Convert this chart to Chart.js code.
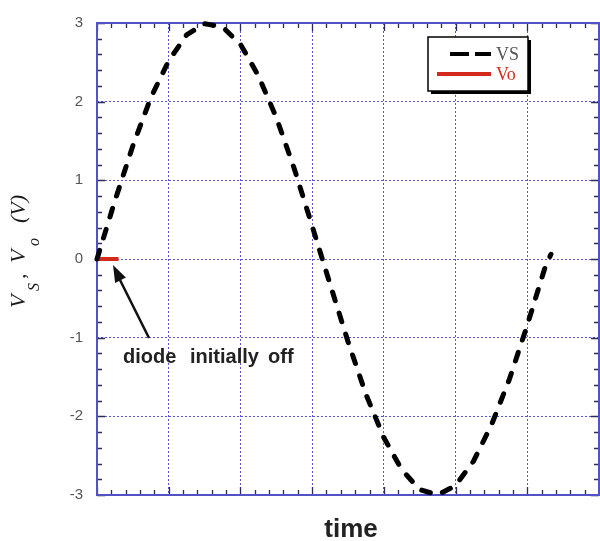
<!DOCTYPE html>
<html>
<head>
<meta charset="utf-8">
<script src="https://cdn.jsdelivr.net/npm/chart.js@4/dist/chart.umd.min.js"></script>
<style>
html,body{margin:0;padding:0;background:#fff}
canvas{display:block}
</style>
</head>
<body>
<canvas id="c" width="600" height="541"></canvas>
<script>
// source voltage vs time (one period of the input)
var timePts = [0, 0.25, 0.5, 0.75, 1, 1.25, 1.5, 1.75, 2, 2.25, 2.5, 2.75, 3, 3.25, 3.5, 3.75, 4, 4.25, 4.5, 4.75, 5, 5.25, 5.5, 5.75, 6, 6.25, 6.33];
var vsVals  = [0, 0.74, 1.44, 2.05, 2.52, 2.85, 2.99, 2.95, 2.73, 2.33, 1.80, 1.15, 0.42, -0.32, -1.05, -1.72, -2.27, -2.68, -2.93, -3.00, -2.88, -2.57, -2.11, -1.53, -0.84, -0.10, 0.06];
// output while the diode is still off
var voTime = [0, 0.3];
var voVals = [0, 0];
var yTicks = [-3, -2, -1, 0, 1, 2, 3];
var xRange = [0, 7];

var gridBlue = 'rgba(70,70,205,0.9)';
var frameBlue = '#5252c4';

var frame = {
	id: 'frame',
	beforeDatasetsDraw: function(chart) {
		var ctx = chart.ctx, a = chart.chartArea, x = chart.scales.x, y = chart.scales.y;
		ctx.save();
		ctx.strokeStyle = '#2c2c5a';
		ctx.lineWidth = 1.3;
		ctx.beginPath();
		for (var i = 0; i <= 35; i++) {
			var px = Math.round(x.getPixelForValue(i / 5)) + 0.5;
			var len = (i % 5 === 0) ? 8 : 5;
			ctx.moveTo(px, a.bottom); ctx.lineTo(px, a.bottom - len);
			ctx.moveTo(px, a.top); ctx.lineTo(px, a.top + len);
		}
		for (var j = 0; j <= 30; j++) {
			var py = Math.round(y.getPixelForValue(-3 + j / 5)) + 0.5;
			var l2 = (j % 5 === 0) ? 8 : 5;
			ctx.moveTo(a.left, py); ctx.lineTo(a.left + l2, py);
			ctx.moveTo(a.right, py); ctx.lineTo(a.right - l2, py);
		}
		ctx.stroke();
		ctx.strokeStyle = frameBlue;
		ctx.lineWidth = 2;
		ctx.strokeRect(a.left, a.top, a.right - a.left, a.bottom - a.top);
		ctx.restore();
	},
	afterDraw: function(chart) {
		var ctx = chart.ctx;
		ctx.save();

		// legend box with drop shadow
		ctx.fillStyle = '#000';
		ctx.fillRect(431, 40, 100, 54);
		ctx.fillStyle = '#fff';
		ctx.fillRect(428, 37, 100, 54);
		ctx.strokeStyle = '#000';
		ctx.lineWidth = 1.5;
		ctx.strokeRect(428, 37, 100, 54);

		var ds = chart.data.datasets;
		ctx.lineCap = 'butt';
		ctx.strokeStyle = ds[0].borderColor;
		ctx.lineWidth = 4;
		ctx.beginPath();
		ctx.moveTo(450, 54); ctx.lineTo(469, 54);
		ctx.moveTo(475, 54); ctx.lineTo(491, 54);
		ctx.stroke();
		ctx.strokeStyle = ds[1].borderColor;
		ctx.beginPath();
		ctx.moveTo(437, 74); ctx.lineTo(491, 74);
		ctx.stroke();

		ctx.font = '18px "Liberation Serif", serif';
		ctx.textBaseline = 'alphabetic';
		ctx.textAlign = 'left';
		ctx.fillStyle = '#555';
		ctx.fillText(ds[0].label, 496, 60);
		ctx.fillStyle = '#d0301f';
		ctx.fillText(ds[1].label, 496, 80);

		// annotation arrow
		ctx.strokeStyle = '#111';
		ctx.fillStyle = '#111';
		ctx.lineWidth = 2.5;
		ctx.beginPath();
		ctx.moveTo(149, 338);
		ctx.lineTo(118, 276);
		ctx.stroke();
		var ang = Math.atan2(265 - 338, 113 - 149);
		ctx.beginPath();
		ctx.moveTo(113, 265);
		ctx.lineTo(113 - 17 * Math.cos(ang) + 6 * Math.sin(ang), 265 - 17 * Math.sin(ang) - 6 * Math.cos(ang));
		ctx.lineTo(113 - 17 * Math.cos(ang) - 6 * Math.sin(ang), 265 - 17 * Math.sin(ang) + 6 * Math.cos(ang));
		ctx.closePath();
		ctx.fill();

		ctx.font = 'bold 20px "Liberation Sans", Arial, sans-serif';
		ctx.fillStyle = '#222';
		ctx.fillText('diode', 123, 363);
		ctx.fillText('initially', 190, 363);
		ctx.fillText('off', 268, 363);

		// x axis title
		ctx.font = 'bold 26px "Liberation Sans", Arial, sans-serif';
		ctx.textAlign = 'center';
		ctx.fillText('time', 351, 537);
		ctx.textAlign = 'left';

		// y axis title with subscripts, rotated
		ctx.translate(25, 308);
		ctx.rotate(-Math.PI / 2);
		ctx.fillStyle = '#1a1a1a';
		var big = 'italic 22px "Liberation Serif", serif';
		var sub = 'italic 16px "Liberation Serif", serif';
		ctx.font = big; ctx.fillText('V', 0, 0);
		ctx.font = sub; ctx.fillText('S', 17, 14);
		ctx.font = big; ctx.fillText(',', 29, 0);
		ctx.fillText('V', 45, 0);
		ctx.font = sub; ctx.fillText('o', 62, 14);
		ctx.font = big; ctx.fillText('(V)', 85, 0);
		ctx.restore();
	}
};

var ctx = document.getElementById('c').getContext('2d');
var myChart = new Chart(ctx, {
	type: 'line',
	data: {
		datasets: [
			{label: 'VS', data: timePts.map(function(t, i) { return {x: t, y: vsVals[i]}; }),
			 borderColor: '#000', borderWidth: 5, borderDash: [9, 13], borderCapStyle: 'round',
			 pointRadius: 0, tension: 0, fill: false, clip: false},
			{label: 'Vo', data: voTime.map(function(t, i) { return {x: t, y: voVals[i]}; }),
			 borderColor: '#d42a1e', borderWidth: 4, pointRadius: 0, tension: 0, fill: false, clip: false}
		]
	},
	options: {
		responsive: false,
		animation: false,
		devicePixelRatio: 1,
		layout: {padding: {top: 17, right: 1, left: 0, bottom: 0}},
		plugins: {legend: {display: false}, tooltip: {enabled: false}},
		scales: {
			x: {
				type: 'linear', min: xRange[0], max: xRange[1],
				ticks: {display: false, stepSize: 1},
				grid: {color: gridBlue, lineWidth: 1, drawTicks: false},
				border: {display: false, dash: [2, 2]},
				afterFit: function(s) { s.height = 46; }
			},
			y: {
				min: yTicks[0], max: yTicks[yTicks.length - 1],
				afterBuildTicks: function(s) { s.ticks = yTicks.map(function(v) { return {value: v}; }); },
				ticks: {color: '#555', padding: 14,
					font: {family: '"Liberation Sans", Arial, sans-serif', size: 15}},
				grid: {color: gridBlue, lineWidth: 1, drawTicks: false},
				border: {display: false, dash: [2, 2]},
				afterFit: function(s) { s.width = 97; }
			}
		}
	},
	plugins: [frame]
});
</script>
</body>
</html>
